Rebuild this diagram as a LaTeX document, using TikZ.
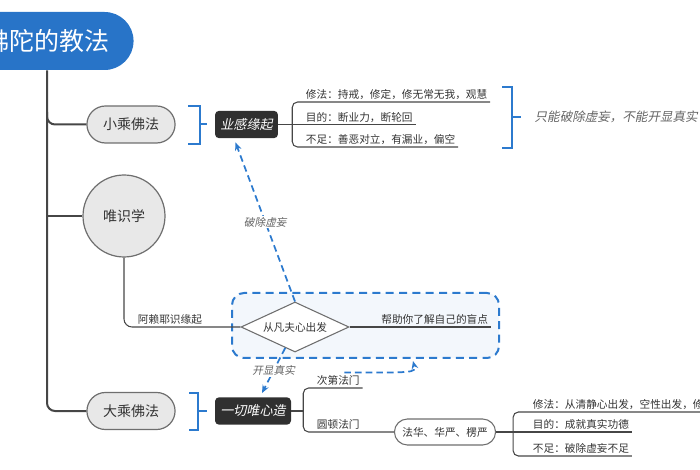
\documentclass[tikz,border=0pt]{standalone}
\usepackage{fontspec}
\setmainfont{Noto Sans CJK SC}
\newfontfamily\slantcjk[FakeSlant=0.2]{Noto Sans CJK SC}
\usepackage{tikz}
\usetikzlibrary{shapes.misc,shapes.geometric,arrows.meta,calc}

\definecolor{titleblue}{RGB}{40,116,200}
\definecolor{markblue}{RGB}{44,122,206}
\definecolor{darkbox}{RGB}{48,48,48}
\definecolor{paleblue}{RGB}{243,247,252}
\definecolor{greyfill}{RGB}{232,232,232}
\definecolor{greyline}{RGB}{110,110,110}
\definecolor{stem}{RGB}{70,70,70}
\definecolor{inktext}{RGB}{51,51,51}
\definecolor{softtext}{RGB}{100,100,100}

\tikzset{
  topic/.style={rounded rectangle, draw=greyline, line width=0.9pt, fill=greyfill, text=inktext, minimum width=72.75pt, minimum height=27.75pt, font=\fontsize{10.5}{12}\selectfont},
  idea/.style={rectangle, rounded corners=3pt, fill=darkbox, text=white, minimum height=20.5pt, inner xsep=4pt, inner ysep=2pt, font=\slantcjk\fontsize{9.8}{11}\selectfont},
  leaf/.style={anchor=south west, inner xsep=2pt, inner ysep=1.5pt, text=inktext, font=\fontsize{8}{9}\selectfont},
  note/.style={text=softtext, font=\slantcjk\fontsize{8}{9}\selectfont},
  trunk/.style={draw=stem, line width=1.5pt, rounded corners=6pt},
  twig/.style={draw=stem, line width=0.8pt, rounded corners=4pt},
  brace/.style={draw=markblue, line width=1.5pt},
  hint/.style={draw=markblue, line width=1.3pt, dash pattern=on 5pt off 3pt, -{Stealth[length=6pt,width=5pt]}},
}

\begin{document}
\begin{tikzpicture}[x=0.75pt,y=-0.75pt]
	\useasboundingbox (0,0) rectangle (700,470);
	\clip (0,0) rectangle (700,470);

	%Shape: Dashed Rounded Rect
	\node [rectangle, rounded corners=9pt, draw=markblue, fill=paleblue, line width=1.5pt, dash pattern=on 6pt off 4pt, minimum width=200.25pt, minimum height=48.75pt] (spot) at (365.5,325.5) {};

	%Shape: Title Pill
	\node [rounded rectangle, fill=titleblue, text=white, minimum width=136.5pt, minimum height=43.5pt, font=\fontsize{18.75}{20}\selectfont] (title) at (47,41) {佛陀的教法};

	%Shape: Topics
	\node [topic] (xiao) at (131,124.5) {小乘佛法};
	\node [circle, draw=greyline, line width=0.9pt, fill=greyfill, text=inktext, minimum size=61.5pt, font=\fontsize{10.5}{12}\selectfont] (weishi) at (124,216) {唯识学};
	\node [topic] (dacheng) at (131,411) {大乘佛法};

	%Shape: Dark Boxes
	\node [idea] (yegan) at (246.5,124.5) {业感缘起};
	\node [idea] (yiqie) at (253,411) {一切唯心造};

	%Shape: Diamond
	\node [diamond, draw=greyline, line width=0.8pt, fill=white, aspect=2.16, minimum width=81pt, minimum height=37.5pt, inner sep=0pt, text=inktext, font=\fontsize{8}{9}\selectfont] (start) at (295,327) {从凡夫心出发};

	%Shape: Plain Pill
	\node [rounded rectangle, draw=greyline, line width=0.8pt, fill=white, text=inktext, minimum width=82.5pt, minimum height=19.5pt, font=\fontsize{8}{9}\selectfont] (fahua) at (445,432) {法华、华严、楞严};

	%Straight Lines: trunk
	\coordinate (xfork) at (47,112);
	\draw [trunk] (title.south) |- (dacheng.west);
	\draw [trunk] (xfork) |- (xiao.west);
	\draw [trunk, rounded corners=0pt] (title.south |- weishi.west) -- (weishi.west);

	%Blue Brackets
	\draw [brace] (188,106) -- (200,106) -- (200,144) -- (188,144);
	\draw [brace] (200,124.5) -- (207,124.5);
	\draw [brace] (189,393) -- (198,393) -- (198,430) -- (189,430);
	\draw [brace] (198,411) -- (207,411);
	\draw [brace] (502,87) -- (512,87) -- (512,148) -- (502,148);
	\draw [brace] (512,117) -- (521,117);

	% Text Node
	\node [leaf] (yg1) at (303,102) {修法：持戒，修定，修无常无我，观慧};
	\node [leaf] (yg2) at (303,124.5) {目的：断业力，断轮回};
	\node [leaf] (yg3) at (303,147) {不足：善恶对立，有漏业，偏空};
	\node [note, anchor=west, font=\slantcjk\fontsize{9.4}{11}\selectfont] (only) at (530,117) {只能破除虚妄，不能开显真实};

	%Straight Lines: first group
	\coordinate (yfork) at ($(yegan.east)+(14,0)$);
	\draw [twig] (yegan.east) -- (yg2.south east);
	\draw [twig] (yfork) |- (yg1.south east);
	\draw [twig] (yfork) |- (yg3.south east);

	% Text Node
	\node [leaf] (alaya) at (135,327) {阿赖耶识缘起};
	\node [leaf, anchor=south east] (help) at (491,327) {帮助你了解自己的盲点};

	%Straight Lines: middle
	\draw [twig, rounded corners=6pt] (weishi.south) |- (start.west);
	\draw [twig] (start.east) -- (help.south east);

	% Text Node
	\node [leaf] (cidi) at (314,388) {次第法门};
	\node [leaf] (yuandun) at (314,432) {圆顿法门};

	%Straight Lines: second group
	\coordinate (dfork) at ($(yiqie.east)+(12,0)$);
	\draw [twig] (yiqie.east) -- (dfork);
	\draw [twig] (dfork) |- (cidi.south east);
	\draw [twig] (dfork) |- (fahua.west);

	% Text Node
	\node [leaf] (fh1) at (530,412) {修法：从清静心出发，空性出发，修};
	\node [leaf] (fh2) at (530,432) {目的：成就真实功德};
	\node [leaf] (fh3) at (530,456) {不足：破除虚妄不足};

	%Straight Lines: third group
	\coordinate (ffork) at ($(fahua.east)+(17,0)$);
	\draw [twig] (fahua.east) -- (fh2.south east);
	\draw [twig] (ffork) |- (fh1.south east);
	\draw [twig] (ffork) |- (fh3.south east);

	%Dashed Arrows
	\draw [hint] (start.north) -- node [note, fill=white, inner sep=1pt] {破除虚妄} ($(yegan.south)+(-11,4)$);
	\draw [hint] (start.-115) -- node [note, fill=white, inner sep=1pt] {开显真实} ($(yiqie.north)+(9,-4)$);
	\draw [hint] ($(cidi.north)+(6,-1)$) .. controls +(70,0) and +(3,12) .. ($(spot.south)+(47.5,2)$);

\end{tikzpicture}
\end{document}
